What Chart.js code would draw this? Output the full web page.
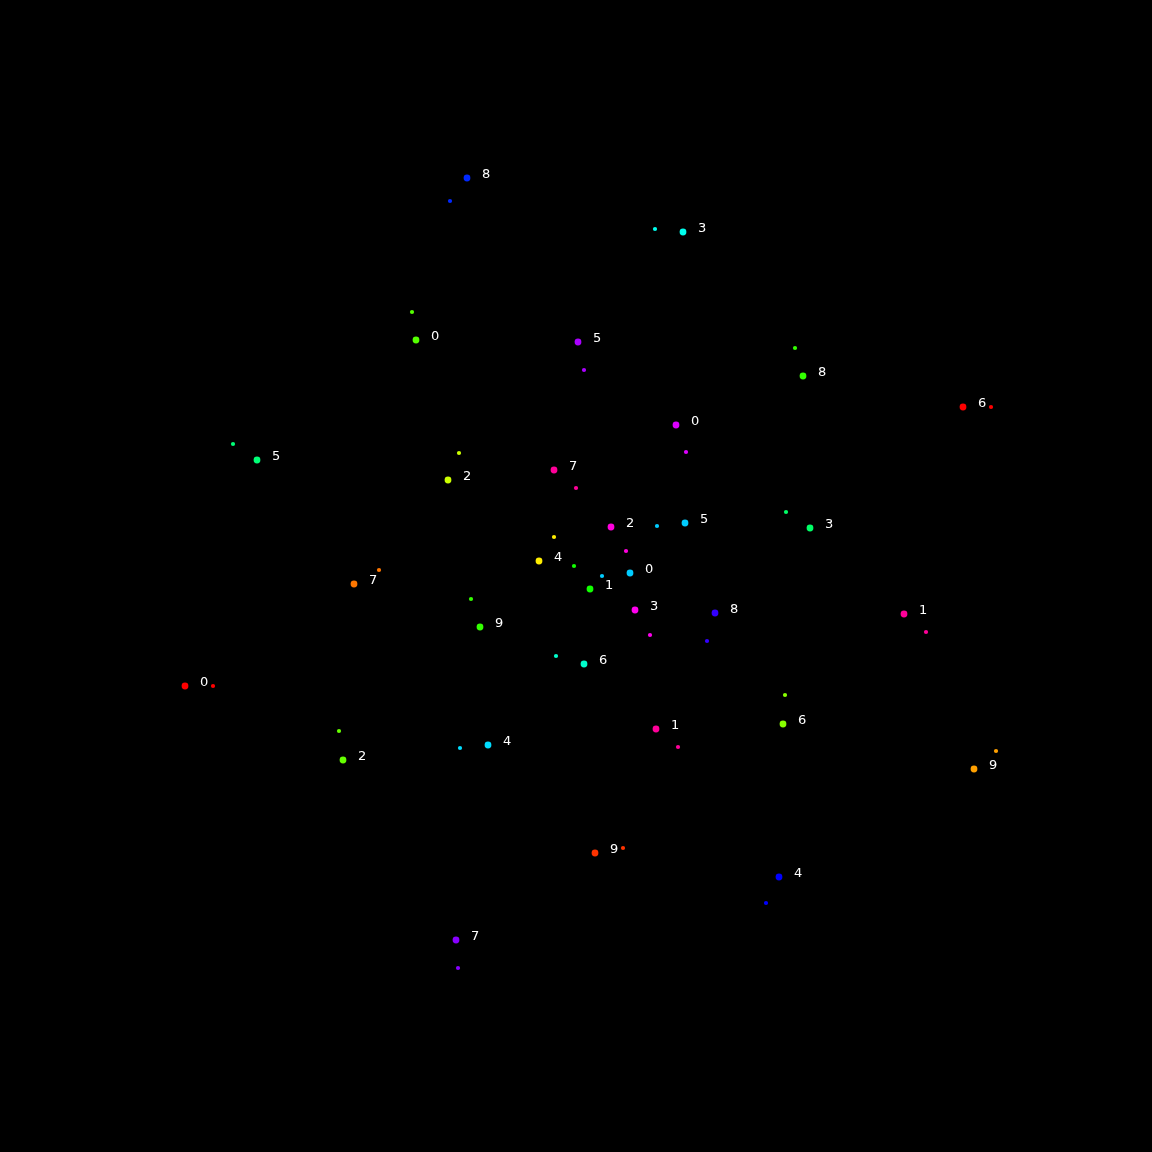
<!DOCTYPE html>
<html>
<head>
<meta charset="utf-8">
<script src="https://cdn.jsdelivr.net/npm/chart.js@4/dist/chart.umd.min.js"></script>
<style>
html,body{margin:0;padding:0;background:#000;}
#wrap{width:1152px;height:1152px;}
</style>
</head>
<body>
<div id="wrap"><canvas id="c" width="1152" height="1152"></canvas></div>
<script>
// Digit label of each point
const digitLabels = ['8','3','0','5','8','6','0','5','2','7','2','5','3','4','0','1','7','3','8','1','9','6','0','6','1','2','4','9','9','4','7'];
// Main (large) point coordinates
const mainX = [-10.9, 10.7, -16.0, 0.2, 22.7, 38.7, 10.0, -31.9, -12.8, -2.2, 3.5, 10.9, 23.4, -3.7, 5.4, 1.4, -22.2, 5.9, 13.9, 32.8, -9.6, 0.8, -39.1, 20.7, 8.0, -23.3, -8.8, 39.8, 1.9, 20.3, -12.0];
const mainY = [39.8, 34.4, 23.6, 23.4, 20.0, 16.9, 15.1, 11.6, 9.6, 10.6, 4.9, 5.3, 4.8, 1.5, 0.3, -1.3, -0.8, -3.4, -3.7, -3.8, -5.1, -8.8, -11.0, -14.8, -15.3, -18.4, -16.9, -19.3, -27.7, -30.1, -36.4];
// Companion (small) point coordinates
const compX = [-12.6, 7.9, -16.4, 0.8, 21.9, 41.5, 11.0, -34.3, -11.7, 0.0, 5.0, 8.1, 21.0, -2.2, 2.6, -0.2, -19.7, 7.4, 13.1, 35.0, -10.5, -2.0, -36.3, 20.9, 10.2, -23.7, -11.6, 42.0, 4.7, 19.0, -11.8];
const compY = [37.5, 34.7, 26.4, 20.6, 22.8, 16.9, 12.4, 13.2, 12.3, 8.8, 2.5, 5.0, 6.4, 3.9, 0.0, 1.0, 0.6, -5.9, -6.5, -5.6, -2.3, -8.0, -11.0, -11.9, -17.1, -15.5, -17.2, -17.5, -27.2, -32.7, -39.2];
// Per-point colours
const pointColors = ['#0028ff','#00ffee','#55ff00','#aa00ff','#33ff00','#ff0000','#dd00ff','#00ff77','#ccff00','#ff0099','#ff00dd','#00ccff','#00ff66','#ffee00','#00ccff','#11ff00','#ff7700','#ff00ee','#3300ff','#ff0099','#33ff00','#00ffcc','#ff0000','#88ff00','#ff0099','#66ff00','#00ddff','#ffa000','#ff3300','#0000ff','#8800ff'];

const mainData = mainX.map((x,i)=>({x:x,y:mainY[i]}));
const compData = compX.map((x,i)=>({x:x,y:compY[i]}));

const labelPlugin = {
  id:'digitLabels',
  afterDatasetsDraw(chart){
    const ctx = chart.ctx;
    const xs = chart.scales.x, ys = chart.scales.y;
    ctx.save();
    ctx.fillStyle = '#ffffff';
    ctx.font = '13px "DejaVu Sans"';
    ctx.textAlign = 'left';
    ctx.textBaseline = 'middle';
    digitLabels.forEach((t,i)=>{
      const px = xs.getPixelForValue(mainX[i]);
      const py = ys.getPixelForValue(mainY[i]);
      ctx.fillText(t, px+15, py-3);
    });
    ctx.restore();
  }
};

const bg = {
  id:'bg',
  beforeDraw(chart){
    const ctx=chart.ctx; ctx.save(); ctx.fillStyle='#000'; ctx.fillRect(0,0,chart.width,chart.height); ctx.restore();
  }
};

new Chart(document.getElementById('c'), {
  type:'scatter',
  data:{
    datasets:[
      {label:'companion', data:compData, pointRadius:2.1, pointBorderWidth:0, backgroundColor:pointColors, borderColor:pointColors},
      {label:'main', data:mainData, pointRadius:3.4, pointBorderWidth:0, backgroundColor:pointColors, borderColor:pointColors}
    ]
  },
  options:{
    responsive:false,
    animation:false,
    layout:{padding:0, autoPadding:false},
    plugins:{legend:{display:false}, tooltip:{enabled:false}},
    scales:{
      x:{type:'linear', min:-57.6, max:57.6, display:false},
      y:{type:'linear', min:-57.6, max:57.6, display:false}
    }
  },
  plugins:[bg, labelPlugin]
});
</script>
</body>
</html>
